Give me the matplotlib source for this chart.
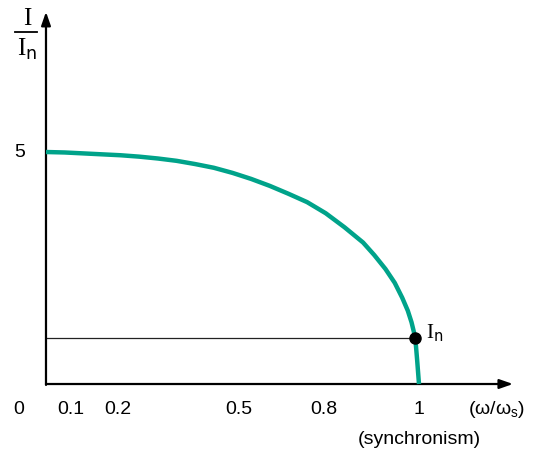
import matplotlib
matplotlib.use("Agg")
import matplotlib.pyplot as plt

# Curve: I/In versus omega/omega_s
w_ratio = [0, 0.05, 0.1, 0.15, 0.2, 0.25, 0.3, 0.35, 0.4, 0.45, 0.5, 0.55, 0.6,
           0.65, 0.7, 0.75, 0.8, 0.85, 0.88, 0.91, 0.935, 0.955, 0.97, 0.98,
           0.99, 0.995, 1.0]
i_ratio = [5.0, 4.99, 4.97, 4.95, 4.93, 4.90, 4.86, 4.81, 4.74, 4.66, 4.55,
           4.42, 4.27, 4.10, 3.92, 3.68, 3.38, 3.05, 2.78, 2.48, 2.18, 1.86,
           1.58, 1.33, 1.0, 0.52, 0.0]
# Rated point
pt_w = [0.99]
pt_i = [1.0]
x_tick_labels = ["0", "0.1", "0.2", "0.5", "0.8", "1"]
x_tick_pos = [-0.072, 0.067, 0.193, 0.517, 0.745, 1.0]   # schematic label placement
y_tick_labels = ["5"]
y_tick_vals = [5]

teal = "#00A38A"
sans = "Liberation Sans"
serif = "Liberation Serif"

fig = plt.figure(figsize=(5.52, 4.55), dpi=100)
ax = fig.add_axes([0, 0, 1, 1])
ax.set_xlim(-0.1233, 1.3566)
ax.set_ylim(-1.530, 8.276)
ax.axis("off")

# axes with arrows
ax.annotate("", xy=(1.252, 0), xytext=(0, 0),
            arrowprops=dict(arrowstyle="-|>,head_length=0.8,head_width=0.28",
                            lw=1.6, color="black", shrinkA=0, shrinkB=0))
ax.annotate("", xy=(0, 8.02), xytext=(0, -0.02),
            arrowprops=dict(arrowstyle="-|>,head_length=0.8,head_width=0.28",
                            lw=1.6, color="black", shrinkA=0, shrinkB=0))

# horizontal reference line to rated point
ax.plot([0, pt_w[0]], [pt_i[0], pt_i[0]], color="#222222", lw=0.9, zorder=2)

# curve
ax.plot(w_ratio, i_ratio, color=teal, lw=3.2, solid_capstyle="butt",
        solid_joinstyle="round", zorder=3)
ax.plot(pt_w, pt_i, "o", color="black", ms=8, zorder=4)

ax.text(1.02, 1.10, r"I$_\mathsf{n}$", family=serif, fontsize=15,
        ha="left", va="center")

# x labels
for p, lab in zip(x_tick_pos, x_tick_labels):
    ax.text(p, -0.56, lab, family=sans, fontsize=14, ha="center", va="center")
ax.text(1.131, -0.56, r"(ω/ω$_\mathregular{s}$)", family=sans,
        fontsize=14, ha="left", va="center")
ax.text(1.0, -1.2, "(synchronism)", family=sans, fontsize=14,
        ha="center", va="center")

# y labels
for v, lab in zip(y_tick_vals, y_tick_labels):
    ax.text(-0.07, v, lab, family=sans, fontsize=14, ha="center", va="center")

ax.text(-0.05, 7.87, "I", family=serif, fontsize=18, ha="center", va="center")
ax.plot([-0.0831, -0.0241], [7.59, 7.59], color="black", lw=1.3)
ax.text(-0.05, 7.22, r"I$_\mathsf{n}$", family=serif, fontsize=18,
        ha="center", va="center")

fig.savefig("out.png", dpi=100)
